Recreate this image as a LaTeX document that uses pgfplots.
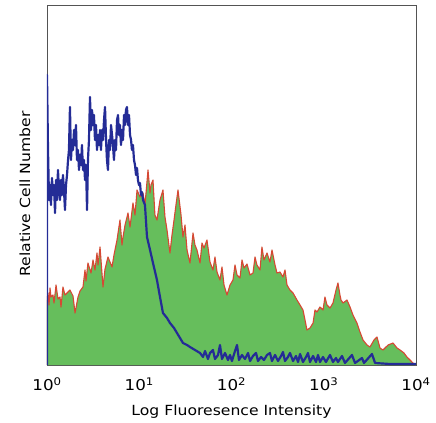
\documentclass[border=0pt]{standalone}
\usepackage{fontspec}
\setmainfont{DejaVu Sans}[FakeStretch=1.12]
\usepackage{pgfplots}
\pgfplotsset{compat=1.18}
\definecolor{histgreen}{RGB}{102,190,92}
\definecolor{histred}{RGB}{214,72,52}
\definecolor{histblue}{RGB}{36,44,150}

% x in decades of fluorescence (0 = 10^0), y in relative counts
\begin{document}
\begin{tikzpicture}
\begin{axis}[scale only axis,width=369bp,height=360bp,
  xmin=0,xmax=4,ymin=0,ymax=360,
  xtick={0,1,2,3,4},
  xticklabels={10\textsuperscript{0},10\textsuperscript{1},10\textsuperscript{2},10\textsuperscript{3},10\textsuperscript{4}},
  ytick=\empty,major tick length=0pt,
  xticklabel style={font=\fontsize{15}{16}\selectfont,yshift=-9bp},
  axis line style={draw=gray!65!black,line width=0.7pt},
  xlabel={Log Fluoresence Intensity},
  xlabel style={font=\fontsize{14}{15}\selectfont,at={(axis description cs:0.5,0)},anchor=base,yshift=-50bp},
  ylabel={Relative Cell Number},
  ylabel style={font=\fontsize{14}{15}\selectfont,at={(axis description cs:-0.0596,0.475)},anchor=center},
  clip=true]
\addplot[fill=histgreen,draw=histred,line width=1.1pt,line join=round] coordinates {
(0,0) (0,65) (0.011,72) (0.022,60) (0.033,77) (0.043,68) (0.065,70) (0.076,62)
(0.098,80) (0.119,66) (0.141,68) (0.152,58) (0.173,78) (0.195,70) (0.217,72)
(0.249,75) (0.282,69) (0.304,52) (0.336,68) (0.358,74) (0.390,78) (0.412,95)
(0.423,84) (0.444,102) (0.477,92) (0.499,105) (0.520,95) (0.542,112) (0.553,100)
(0.575,118) (0.607,78) (0.629,96) (0.661,108) (0.705,98) (0.726,110) (0.759,125)
(0.791,145) (0.813,120) (0.824,128) (0.846,140) (0.878,152) (0.900,138)
(0.932,162) (0.954,150) (0.976,175) (1.008,168) (1.041,172) (1.062,160)
(1.095,195) (1.117,172) (1.127,180) (1.149,185) (1.170,150) (1.192,145)
(1.225,165) (1.257,175) (1.279,148) (1.301,135) (1.333,112) (1.355,130)
(1.377,145) (1.398,160) (1.420,175) (1.453,150) (1.474,128) (1.496,140)
(1.518,115) (1.550,102) (1.583,132) (1.604,120) (1.626,115) (1.659,102)
(1.680,122) (1.702,117) (1.734,125) (1.767,103) (1.799,95) (1.821,108)
(1.843,93) (1.875,85) (1.897,98) (1.919,80) (1.951,70) (1.984,80) (2.016,85)
(2.038,100) (2.060,90) (2.092,87) (2.114,105) (2.136,97) (2.168,101) (2.201,90)
(2.233,92) (2.255,108) (2.276,100) (2.309,95) (2.330,118) (2.352,105)
(2.385,112) (2.417,103) (2.439,115) (2.472,100) (2.493,92) (2.526,93)
(2.558,88) (2.580,95) (2.602,80) (2.634,75) (2.667,72) (2.710,65) (2.743,60)
(2.775,55) (2.797,45) (2.818,35) (2.851,37) (2.884,42) (2.905,55) (2.927,53)
(2.959,58) (2.992,55) (3.013,68) (3.035,60) (3.068,57) (3.100,62) (3.133,75)
(3.154,82) (3.176,70) (3.187,65) (3.209,62) (3.252,65) (3.285,58) (3.317,50)
(3.360,42) (3.393,33) (3.426,25) (3.469,20) (3.501,18) (3.545,25) (3.577,28)
(3.610,17) (3.642,15) (3.697,20) (3.751,22) (3.794,17) (3.827,15) (3.870,12)
(3.902,8) (3.935,5) (3.967,2) (4.0,0)
};
\addplot[draw=histblue,line width=2.2pt,line join=round] coordinates {
(0,0) (0,290) (0.011,215) (0.022,165) (0.033,180) (0.043,160) (0.054,187)
(0.065,170) (0.076,180) (0.087,152) (0.098,185) (0.108,165) (0.119,195)
(0.130,175) (0.141,165) (0.152,185) (0.163,170) (0.173,190) (0.184,175)
(0.195,155) (0.206,180) (0.217,190) (0.228,205) (0.238,215) (0.249,258)
(0.260,205) (0.271,225) (0.282,215) (0.293,235) (0.304,220) (0.314,240)
(0.325,205) (0.336,215) (0.347,195) (0.358,210) (0.369,200) (0.379,220)
(0.390,195) (0.401,205) (0.412,185) (0.423,200) (0.434,155) (0.444,205)
(0.455,225) (0.466,268) (0.477,235) (0.488,255) (0.499,240) (0.509,250)
(0.520,225) (0.531,240) (0.542,215) (0.553,230) (0.564,220) (0.575,235)
(0.585,215) (0.596,235) (0.607,225) (0.618,245) (0.629,258) (0.640,225)
(0.650,205) (0.661,195) (0.672,225) (0.683,215) (0.694,240) (0.705,230)
(0.715,220) (0.726,205) (0.737,225) (0.748,215) (0.759,245) (0.770,250)
(0.780,230) (0.791,240) (0.802,220) (0.813,235) (0.824,225) (0.835,250)
(0.846,240) (0.856,255) (0.867,258) (0.878,240) (0.889,250) (0.900,230)
(0.911,225) (0.921,215) (0.932,220) (0.943,205) (0.954,200) (0.965,190)
(0.976,197) (0.986,185) (0.997,180) (1.008,182) (1.019,170) (1.030,173)
(1.041,165) (1.062,160) (1.084,128) (1.117,115) (1.149,102) (1.192,85)
(1.225,68) (1.257,52) (1.301,47) (1.333,42) (1.377,37) (1.409,32) (1.442,27)
(1.474,22) (1.518,20) (1.550,18) (1.604,15) (1.659,12) (1.691,8) (1.713,14)
(1.745,6) (1.767,12) (1.799,15) (1.821,6) (1.854,10) (1.875,20) (1.897,6)
(1.930,12) (1.962,5) (1.984,10) (2.005,4) (2.038,14) (2.060,20) (2.081,5)
(2.114,10) (2.146,6) (2.179,12) (2.201,4) (2.233,9) (2.266,12) (2.287,4)
(2.320,8) (2.352,5) (2.385,10) (2.417,12) (2.439,4) (2.472,10) (2.504,4)
(2.537,9) (2.558,13) (2.580,4) (2.612,8) (2.634,12) (2.667,4) (2.699,9)
(2.721,3) (2.743,11) (2.775,3) (2.808,8) (2.829,12) (2.851,3) (2.884,9)
(2.916,3) (2.938,10) (2.959,3) (2.992,8) (3.024,3) (3.068,10) (3.100,3)
(3.133,7) (3.154,3) (3.198,9) (3.230,2) (3.306,10) (3.339,2) (3.415,7)
(3.436,2) (3.523,11) (3.556,2) (3.718,1) (4.0,1)
};
\end{axis}
\pgfresetboundingbox
\path ([xshift=-47bp,yshift=-58bp]current axis.south west) rectangle ([xshift=20bp,yshift=5bp]current axis.north east);
\end{tikzpicture}
\end{document}
